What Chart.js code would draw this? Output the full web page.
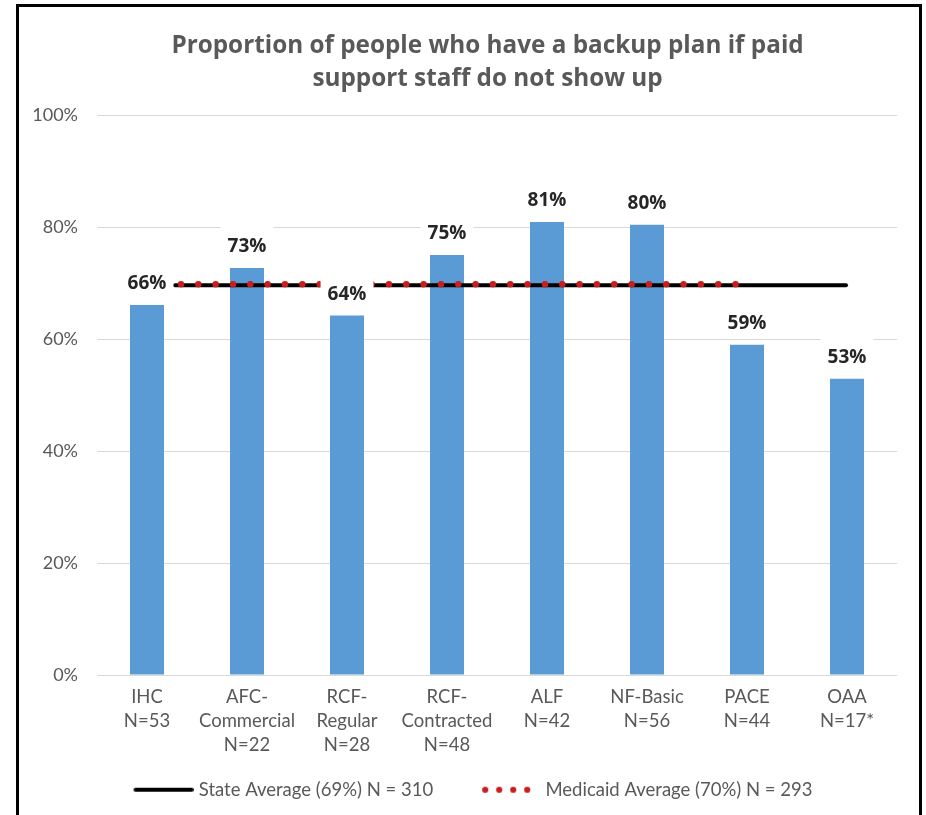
<!DOCTYPE html>
<html>
<head>
<meta charset="utf-8">
<title>Backup plan chart</title>
<script src="https://cdn.jsdelivr.net/npm/chart.js@4.4.0/dist/chart.umd.min.js"></script>
<style>
  html, body { margin: 0; padding: 0; background: #fff; }
  #wrap { position: relative; width: 926px; height: 815px; overflow: hidden; }
  #chart { position: absolute; left: 0; top: 0; }
  #frame { position: absolute; left: 16px; top: 4px; width: 900px; height: 840px; border: 3px solid #000; pointer-events: none; }
</style>
</head>
<body>
<div id="wrap">
  <canvas id="chart" width="926" height="815"></canvas>
  <div id="frame"></div>
</div>
<script>
// ---------------- Data ----------------
const categories = [
  ["IHC", "N=53"],
  ["AFC-", "Commercial", "N=22"],
  ["RCF-", "Regular", "N=28"],
  ["RCF-", "Contracted", "N=48"],
  ["ALF", "N=42"],
  ["NF-Basic", "N=56"],
  ["PACE", "N=44"],
  ["OAA", "N=17*"]
];
const backupPlanPct = [66.1, 72.7, 64.2, 75.0, 80.9, 80.4, 59.0, 52.9];

const stateAverage = 69.6;
const medicaidAverage = 69.8;
// start / end of each reference line, in category units along the x axis
const stateSpan = [0.78, 7.49];
const medicaidSpan = [0.84, 6.40];

const yStep = 20;

const stateLabel = "State Average (69%) N = 310";
const medicaidLabel = "Medicaid Average (70%) N = 293";

const BAR_BLUE = "#5B9BD5";
const DOT_RED = "#C81E1E";
const TEXT_GRAY = "#595959";
const TICK_FONT = "Lato, 'Liberation Sans', sans-serif";
const BOLD_FONT = "'Open Sans', 'DejaVu Sans', sans-serif";

// ---------------- Legend swatches ----------------
// legend box is SWATCH_BOX wide; the image is 8px wider and the swatch
// sits at its right end, so it runs close to the label text
const SWATCH_BOX = 85;
function makeSwatch(kind) {
  const c = document.createElement("canvas");
  const w = SWATCH_BOX + 8;
  c.width = w; c.height = 10;
  const g = c.getContext("2d");
  if (kind === "line") {
    g.strokeStyle = "#000"; g.lineWidth = 4; g.lineCap = "round";
    g.beginPath(); g.moveTo(w - 58, 5); g.lineTo(w - 2, 5); g.stroke();
  } else {
    g.fillStyle = DOT_RED;
    for (let i = 0; i < 4; i++) {
      g.beginPath(); g.arc(w - 13 - 14 * i, 5, 3.1, 0, Math.PI * 2); g.fill();
    }
  }
  return c;
}
const swatches = [null, makeSwatch("line"), makeSwatch("dots")];

// ---------------- Value labels (white boxed, drawn over the lines) ----------------
const valueLabels = {
  id: "valueLabels",
  afterDatasetsDraw(chart) {
    const ctx = chart.ctx;
    const meta = chart.getDatasetMeta(0);
    ctx.save();
    ctx.font = "bold 19px " + BOLD_FONT;
    ctx.textAlign = "center";
    ctx.textBaseline = "middle";
    meta.data.forEach((bar, i) => {
      const text = Math.round(backupPlanPct[i]) + "%";
      const cy = bar.y - 22;
      const w = ctx.measureText(text).width;
      ctx.fillStyle = "#fff";
      ctx.fillRect(bar.x - w / 2 - 7, cy - 19, w + 14, 31);
      ctx.fillStyle = "#262626";
      ctx.fillText(text, bar.x, cy + 1);
    });
    ctx.restore();
  }
};

// ---------------- Chart ----------------
new Chart(document.getElementById("chart"), {
  type: "bar",
  data: {
    labels: categories,
    datasets: [
      {
        label: "Backup plan",
        data: backupPlanPct,
        backgroundColor: BAR_BLUE,
        grouped: false,
        barPercentage: 0.34,
        categoryPercentage: 1.0,
        order: 3
      },
      {
        type: "line",
        label: stateLabel,
        xAxisID: "xLine",
        data: stateSpan.map(x => ({ x, y: stateAverage })),
        borderColor: "#000",
        borderWidth: 4,
        borderCapStyle: "round",
        pointRadius: 0,
        order: 2
      },
      {
        type: "line",
        label: medicaidLabel,
        xAxisID: "xLine",
        data: medicaidSpan.map(x => ({ x, y: medicaidAverage })),
        borderColor: DOT_RED,
        borderWidth: 6.5,
        borderDash: [0, 17.33],
        borderCapStyle: "round",
        pointRadius: 0,
        order: 1
      }
    ]
  },
  options: {
    responsive: false,
    animation: false,
    layout: { padding: { left: 20, right: 29, top: 0, bottom: 6 } },
    plugins: {
      tooltip: { enabled: false },
      title: {
        display: true,
        fullSize: false,
        // trailing spaces nudge the centred lines a little to the left
        text: ["Proportion of people who have a backup plan if paid   ", "support staff do not show up   "],
        color: TEXT_GRAY,
        font: { family: BOLD_FONT, size: 24.3, weight: "bold", lineHeight: 1.38 },
        padding: { top: 29, bottom: 19 }
      },
      legend: {
        position: "bottom",
        labels: {
          usePointStyle: true,
          pointStyleWidth: SWATCH_BOX,
          padding: 18,
          color: TEXT_GRAY,
          font: { family: TICK_FONT, size: 18.5 },
          generateLabels: chart => chart.data.datasets
            .map((ds, i) => ({
              text: ds.label,
              pointStyle: swatches[i],
              fontColor: TEXT_GRAY,
              fillStyle: "transparent",
              strokeStyle: "transparent",
              lineWidth: 0,
              hidden: false,
              datasetIndex: i
            }))
            .filter(item => item.datasetIndex > 0)
        }
      }
    },
    scales: {
      x: {
        type: "category",
        grid: { display: false, drawTicks: false },
        border: { display: false },
        ticks: {
          color: TEXT_GRAY,
          font: { family: TICK_FONT, size: 18.5, lineHeight: 1.3 },
          padding: 10,
          maxRotation: 0,
          autoSkip: false
        },
        afterFit: s => { s.height = 87.5; }
      },
      xLine: {
        type: "linear",
        display: false,
        offset: false,
        grid: { offset: false },
        min: 0,
        max: 8
      },
      y: {
        min: 0,
        max: 100,
        ticks: {
          stepSize: yStep,
          color: TEXT_GRAY,
          font: { family: TICK_FONT, size: 18 },
          padding: 19,
          callback: v => v + "%"
        },
        grid: { color: "#D9D9D9", lineWidth: 1, drawTicks: false },
        border: { display: false },
        afterFit: s => { s.width = 77; }
      }
    }
  },
  plugins: [valueLabels]
});
</script>
</body>
</html>
